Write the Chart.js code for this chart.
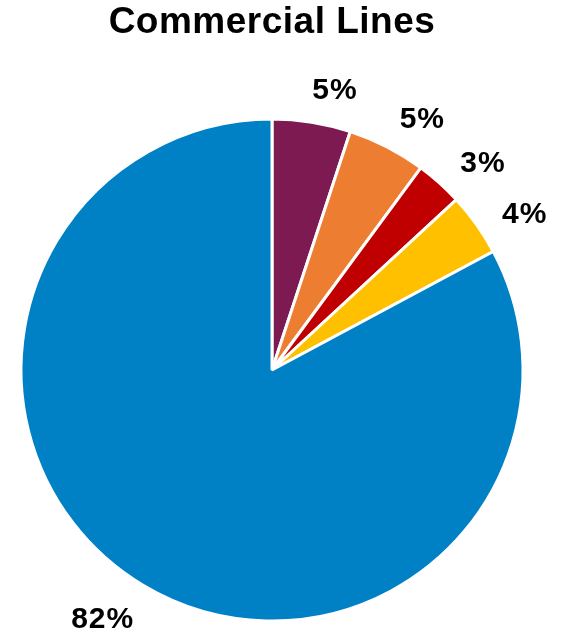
<!DOCTYPE html>
<html>
<head>
<meta charset="utf-8">
<script src="https://cdn.jsdelivr.net/npm/chart.js@4"></script>
<style>
  body { margin: 0; background: #fff; }
</style>
</head>
<body>
<canvas id="linesChart" width="578" height="633"></canvas>
<script>
const categories = ['Segment A', 'Segment B', 'Segment C', 'Segment D', 'Segment E'];
const shares = [5, 5, 3, 4, 82];
const sliceColors = ['#7E1A52', '#ED7D31', '#C00000', '#FFC000', '#0081C6'];

const fontFamily = '"Liberation Sans", Arial, sans-serif';

// percent labels sitting just outside each slice
const outsideLabels = {
    id: 'outsideLabels',
    afterDatasetsDraw(chart) {
        const ctx = chart.ctx;
        const arcs = chart.getDatasetMeta(0).data;
        const size = 30;
        const capH = size * 0.716;
        ctx.save();
        ctx.font = 'bold ' + size + 'px ' + fontFamily;
        ctx.letterSpacing = '1px';
        ctx.fillStyle = '#000';
        ctx.textAlign = 'center';
        ctx.textBaseline = 'alphabetic';
        arcs.forEach((arc, i) => {
            const text = shares[i] + '%';
            const a = (arc.startAngle + arc.endAngle) / 2 + 3.5 * Math.PI / 180;
            const w = ctx.measureText(text).width;
            const ext = Math.abs(w / 2 * Math.cos(a)) + Math.abs(capH / 2 * Math.sin(a));
            const d = arc.outerRadius + 22 + ext;
            ctx.fillText(text, arc.x + d * Math.cos(a), arc.y + d * Math.sin(a) + capH / 2);
        });
        ctx.restore();
    }
};

const titleSpacing = {
    id: 'titleSpacing',
    beforeDraw(chart) {
        chart.ctx.letterSpacing = '0.5px';
    }
};

const ctx = document.getElementById('linesChart').getContext('2d');
new Chart(ctx, {
    type: 'pie',
    data: {
        labels: categories,
        datasets: [{
            data: shares,
            backgroundColor: sliceColors,
            borderColor: '#fff',
            borderWidth: 3
        }]
    },
    options: {
        responsive: false,
        animation: false,
        radius: 251,
        layout: { padding: { left: 0, right: 34, top: 0, bottom: 0 } },
        plugins: {
            legend: { display: false },
            tooltip: { enabled: false },
            title: {
                display: true,
                text: 'Commercial Lines',
                color: '#000',
                font: { family: fontFamily, size: 37, weight: 'bold' },
                padding: { top: 1, bottom: 61.6 }
            }
        }
    },
    plugins: [titleSpacing, outsideLabels]
});
</script>
</body>
</html>
